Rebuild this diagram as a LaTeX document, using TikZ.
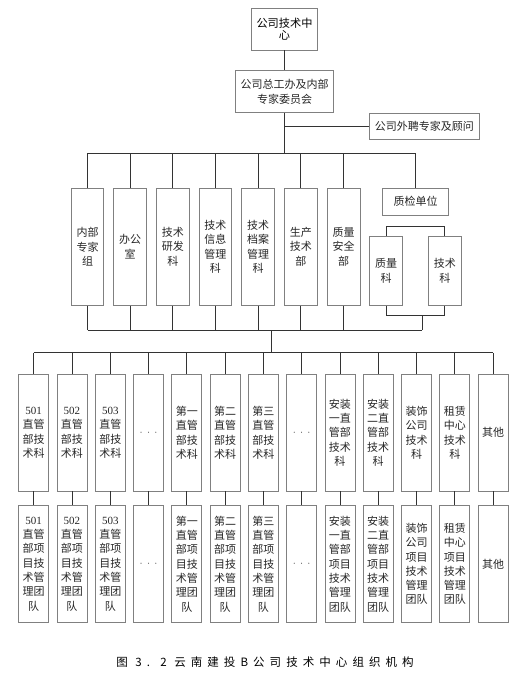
\documentclass[tikz,border=0pt]{standalone}
\usepackage{fontspec}
\setmainfont{Noto Sans CJK SC}
\newfontfamily\lat{Liberation Serif}
\definecolor{boxgray}{HTML}{808080}
\definecolor{linegray}{HTML}{333333}
\begin{document}
\begin{tikzpicture}[x=1pt,y=-1pt,
  box/.style={draw=boxgray, line width=0.7pt, inner sep=0pt, align=center,
    text=black!85, font=\fontsize{11}{14.3}\selectfont},
  ucol/.style={box, minimum width=32.6pt, minimum height=117pt},
  lcol/.style={box, minimum width=30pt, minimum height=116.6pt},
  conn/.style={draw=linegray, line width=0.7pt}]
\useasboundingbox (0,0) rectangle (522,685);
% top
\node[box, minimum width=65.6pt, minimum height=41.7pt, text=black,
  font=\fontsize{11.2}{12.7}\selectfont] (t0) at (284.5,29.2) {公司技术中\\心};
\node[box, minimum width=97.6pt, minimum height=41.6pt,
  font=\fontsize{11}{15}\selectfont] (t1) at (284.5,91.5) {公司总工办及内部\\专家委员会};
\node[box, minimum width=110pt, minimum height=26pt] (ext) at (424.3,126.3) {公司外聘专家及顾问};
\coordinate (bus1) at (284.5,153.3);
\draw[conn] (t0) -- (t1);
\draw[conn] (t1.south) -- (bus1);
\draw[conn] (t1.south |- ext.west) -- (ext.west);
% upper row
\foreach \x/\t [count=\i] in {87.5/{内部\\专家\\组}, 130/{办公\\室}, 172.8/{技术\\研发\\科},
  215.3/{技术\\信息\\管理\\科}, 258/{技术\\档案\\管理\\科}, 300.8/{生产\\技术\\部}, 343.7/{质量\\安全\\部}}
  \node[ucol] (u\i) at (\x,246.8) {\t};
\node[box, minimum width=65.6pt, minimum height=26.7pt] (qj) at (415.5,201.7) {质检单位};
\node[box, minimum width=32.6pt, minimum height=69pt] (zl) at (386,270.8) {质量\\科};
\node[box, minimum width=32.6pt, minimum height=69pt] (js) at (444.8,270.8) {技术\\科};
\draw[conn] (u1.north |- bus1) -- (qj.north |- bus1) -- (qj.north);
\foreach \i in {1,...,7} \draw[conn] (u\i.north) -- (u\i.north |- bus1);
\coordinate (bt) at (415,226);
\coordinate (bb) at (422.3,315.7);
\coordinate (bus2) at (271,330);
\coordinate (bus3) at (271,352.7);
\draw[conn] (zl.north) -- (zl.north |- bt) -- (js.north |- bt) -- (js.north);
\draw[conn] (zl.south) -- (zl.south |- bb) -- (js.south |- bb) -- (js.south);
\draw[conn] (bb) -- (bb |- bus2);
\draw[conn] (u1.south |- bus2) -- (bb |- bus2);
\foreach \i in {1,...,7} \draw[conn] (u\i.south) -- (u\i.south |- bus2);
\draw[conn] (bus2) -- (bus3);
% lower rows
\foreach \ta/\tb [count=\i] in {
  {{\lat 501}\\直管\\部技\\术科}/{{\lat 501}\\直管\\部项\\目技\\术管\\理团\\队},
  {{\lat 502}\\直管\\部技\\术科}/{{\lat 502}\\直管\\部项\\目技\\术管\\理团\\队},
  {{\lat 503}\\直管\\部技\\术科}/{{\lat 503}\\直管\\部项\\目技\\术管\\理团\\队},
  {\textcolor{black!70}{$\cdot\,\cdot\,\cdot$}}/{\textcolor{black!70}{$\cdot\,\cdot\,\cdot$}},
  {第一\\直管\\部技\\术科}/{第一\\直管\\部项\\目技\\术管\\理团\\队},
  {第二\\直管\\部技\\术科}/{第二\\直管\\部项\\目技\\术管\\理团\\队},
  {第三\\直管\\部技\\术科}/{第三\\直管\\部项\\目技\\术管\\理团\\队},
  {\textcolor{black!70}{$\cdot\,\cdot\,\cdot$}}/{\textcolor{black!70}{$\cdot\,\cdot\,\cdot$}},
  {安装\\一直\\管部\\技术\\科}/{安装\\一直\\管部\\项目\\技术\\管理\\团队},
  {安装\\二直\\管部\\技术\\科}/{安装\\二直\\管部\\项目\\技术\\管理\\团队},
  {装饰\\公司\\技术\\科}/{装饰\\公司\\项目\\技术\\管理\\团队},
  {租赁\\中心\\技术\\科}/{租赁\\中心\\项目\\技术\\管理\\团队},
  {其他}/{其他}} {
  \pgfmathsetmacro{\xx}{33.7+38.28*(\i-1)}
  \node[lcol] (r\i) at (\xx,432.7) {\ta};
  \node[lcol] (s\i) at (\xx,564) {\tb};
  \draw[conn] (r\i.north) -- (r\i.north |- bus3);
  \draw[conn] (r\i.south) -- (s\i.north);
}
\draw[conn] (r1.north |- bus3) -- (r13.north |- bus3);
% caption
\node[font=\fontsize{11.5}{13}\selectfont, text=black, inner sep=0pt] (cap) at (265,661.7)
  {\addfontfeature{LetterSpace=44}图 3. 2 云南建投B公司技术中心组织机构};
\end{tikzpicture}
\end{document}
